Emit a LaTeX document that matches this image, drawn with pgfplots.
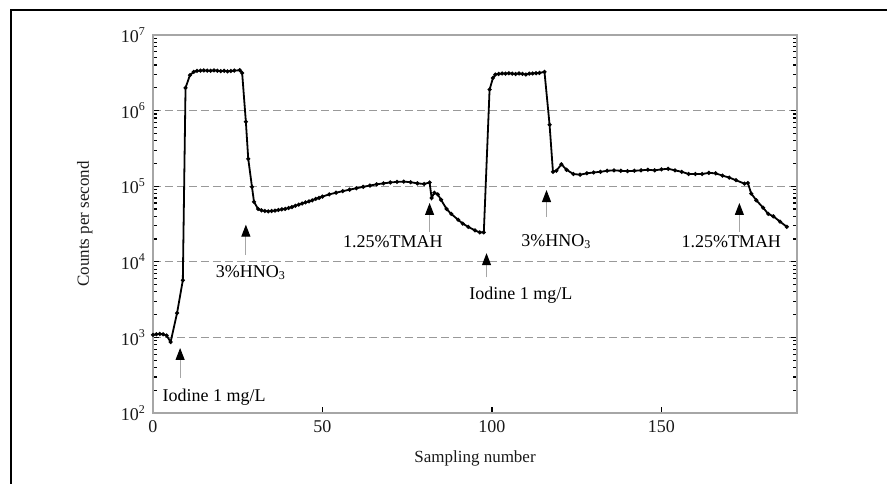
\documentclass[border=0pt]{standalone}
\usepackage{fontspec}
\setmainfont{Liberation Serif}
\usepackage{pgfplots}
\pgfplotsset{compat=1.18}
\usetikzlibrary{arrows.meta}

% Iodine signal trace (counts per second) over the sampling sequence
\begin{filecontents*}{trace.dat}
x y
0 1080
1 1100
2 1110
3 1100
4 1060
5.2 870
7.1 2100
8.8 5700
9.6 2000000
10.9 2950000
12 3250000
13 3350000
14 3380000
15 3400000
16 3380000
17 3360000
18 3400000
19 3370000
20 3330000
21 3360000
22 3300000
23 3340000
24 3380000
25.6 3420000
26.3 3150000
27.4 710000
28.1 230000
29.2 98000
29.8 62000
31 50000
32 48000
33 47000
34 46500
35 47000
36 47500
37 48500
38 49500
39 50000
40 51500
41 53000
42 55000
43 57000
44 59000
45 61000
46 63000
47 65000
48 68000
49 70000
50 73000
52 78000
54 82000
56 86000
58 90000
60 94000
62 98000
64 102000
66 106000
68 109000
70 112000
72 114000
74 115000
76 113000
78 109000
80 107000
81.6 112000
82.2 70000
83 82000
84 78000
85 66000
86.6 50000
88 43000
90 36000
91.4 32000
93 29000
95 26000
96.4 24500
97.6 24500
99.3 1900000
100.3 2700000
101 3000000
102 3050000
103 3100000
104 3080000
105 3120000
106 3080000
107 3050000
108 3100000
109 3060000
110 3000000
111 3080000
112 3100000
113 3120000
114 3150000
115.5 3250000
117 650000
118 155000
119 160000
120.5 195000
122 165000
124 145000
126 142000
128 148000
130 152000
132 155000
134 160000
136 162000
138 160000
140 158000
142 160000
144 162000
146 165000
148 162000
150 167000
152 170000
154 162000
156 155000
158 145000
160 145000
162 145000
164 150000
166 148000
168 138000
170 130000
172 120000
174.5 108000
175.5 110000
176.5 80000
178 65000
180 52000
181.5 43000
183 40000
185 34000
187 29000
\end{filecontents*}

\begin{document}
\begin{tikzpicture}[
  note/.style={font=\fontsize{9}{10}\selectfont, inner sep=0pt},
  cue/.style={gray!70, line width=0.5pt,
    -{Triangle[length=6pt,width=4.5pt,color=black,fill=black]}}
]
\begin{axis}[
  name=ax,
  scale only axis,
  width=322pt, height=189pt,
  xmin=0, xmax=190,
  ymode=log, ymin=1e2, ymax=1e7,
  xtick={0,50,100,150},
  xtick pos=bottom,
  ytick={1e2,1e3,1e4,1e5,1e6,1e7},
  yticklabels={10\textsuperscript{2},10\textsuperscript{3},10\textsuperscript{4},10\textsuperscript{5},10\textsuperscript{6},10\textsuperscript{7}},
  ytick pos=both,
  tick align=inside,
  major tick length=3pt,
  minor tick length=2pt,
  every tick/.style={black, line width=0.6pt},
  axis line style={gray!70, line width=1.3pt},
  ymajorgrids,
  major grid style={gray!80, dash pattern=on 4pt off 2pt, line width=0.5pt},
  /pgf/number format/assume math mode=true,
  tick label style={font=\fontsize{9}{10}\selectfont, text=gray!20!black},
  xlabel={Sampling number},
  ylabel={Counts per second},
  label style={font=\fontsize{8.5}{10}\selectfont, text=gray!20!black},
  xlabel style={at={(axis description cs:0.5,-0.119)}, anchor=center},
  ylabel style={at={(axis description cs:-0.106,0.5)}, anchor=center},
  clip=false,
]
\addplot[black, line width=0.9pt, mark=*, mark size=0.5pt]
  table[x=x, y=y] {trace.dat};

% injection / rinse cues
\draw[cue] (axis cs:8,290) -- (axis cs:8,725);
\node[note] at (axis cs:18,162) {Iodine 1 mg/L};

\draw[cue] (axis cs:27.4,12300) -- (axis cs:27.4,31000);
\node[note] at (axis cs:28.9,7300) {3\%HNO\textsubscript{3}};

\draw[cue] (axis cs:81.6,24600) -- (axis cs:81.6,60000);
\node[note] at (axis cs:70.8,18300) {1.25\%TMAH};

\draw[cue] (axis cs:98.4,6200) -- (axis cs:98.4,13000);
\node[note] at (axis cs:108.5,3600) {Iodine 1 mg/L};

\draw[cue] (axis cs:116.1,39000) -- (axis cs:116.1,89000);
\node[note] at (axis cs:119,18300) {3\%HNO\textsubscript{3}};

\draw[cue] (axis cs:173,24600) -- (axis cs:173,60000);
\node[note] at (axis cs:170.6,18300) {1.25\%TMAH};
\end{axis}

% page extent and the surrounding frame
\pgfresetboundingbox
\path[use as bounding box]
  ([shift={(-76.5pt,-35pt)}]ax.south west) rectangle
  ([shift={(367pt,206.5pt)}]ax.south west);
\draw[black, line width=1pt]
  ([shift={(-71pt,-36pt)}]ax.south west) --
  ([shift={(-71pt,201.5pt)}]ax.south west) --
  ([shift={(368pt,201.5pt)}]ax.south west);
\end{tikzpicture}
\end{document}
